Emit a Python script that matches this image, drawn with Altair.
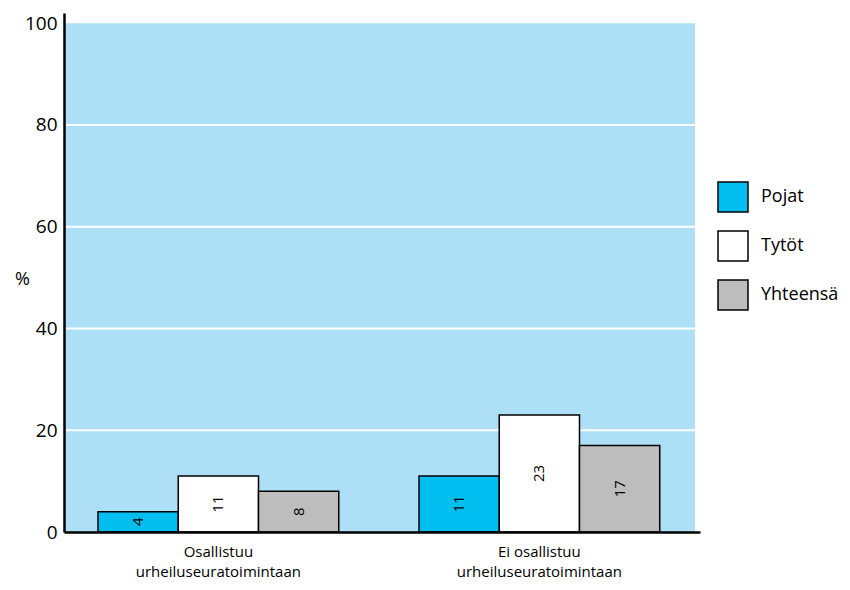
import altair as alt
import pandas as pd

categories = ["Osallistuu\nurheiluseuratoimintaan", "Ei osallistuu\nurheiluseuratoimintaan"]
series = ["Pojat", "Tytöt", "Yhteensä"]
pojat = [4, 11]
tytot = [11, 23]
yhteensa = [8, 17]
y_ticks = [0, 20, 40, 60, 80, 100]
grid_values = [20, 40, 60, 80]
colors = ["#00BFF0", "#FFFFFF", "#BDBDBD"]

rows = []
for i, c in enumerate(categories):
    for s, vals in zip(series, [pojat, tytot, yhteensa]):
        rows.append({"cat": c, "serie": s, "value": vals[i]})
df = pd.DataFrame(rows)

FONT = "Open Sans"

x_scale = alt.Scale(paddingInner=0.25, paddingOuter=0.1157, align=0.458)
x_axis = alt.Axis(labelAngle=0, ticks=False, grid=False, labelFontSize=15, labelPadding=12,
                  labelLineHeight=20, labelColor="black", domainColor="black",
                  domainWidth=2.5, labelExpr="split(datum.label, '\\n')",
                  labelBaseline="top", zindex=1)
y_scale = alt.Scale(domain=[0, 102], nice=False, zero=True)
y_axis = alt.Axis(values=y_ticks, ticks=False, grid=False, labelFontSize=19,
                  labelColor="black", labelPadding=7, domainColor="black",
                  domainWidth=2.5, titleAngle=0, titleFontSize=18,
                  titleFontWeight="normal", titleX=-42, titleY=266,
                  titleAlign="center", titleBaseline="middle", titleColor="black",
                  zindex=1)

bg = alt.Chart(pd.DataFrame({"a": [0]})).mark_rect(color="#ADE0F7").encode(
    x=alt.value(0), x2=alt.value(631),
    y=alt.Y(datum=0, scale=y_scale, axis=y_axis, title="%"), y2=alt.datum(100)
)

grid = alt.Chart(pd.DataFrame({"g": grid_values})).mark_rule(color="white", strokeWidth=2).encode(
    x=alt.value(0), x2=alt.value(631),
    y=alt.Y("g:Q", scale=y_scale, axis=y_axis, title="%")
)

bars = alt.Chart(df).mark_bar(stroke="black", strokeWidth=1.5).encode(
    x=alt.X("cat:N", sort=categories, title=None, scale=x_scale, axis=x_axis),
    xOffset=alt.XOffset("serie:N", sort=series, scale=alt.Scale(paddingInner=0, paddingOuter=0)),
    y=alt.Y("value:Q", scale=y_scale, axis=y_axis, title="%"),
    color=alt.Color("serie:N", sort=series,
                    scale=alt.Scale(domain=series, range=colors),
                    legend=alt.Legend(title=None, orient="none", legendX=653, legendY=168,
                                      symbolType="square", symbolSize=900,
                                      symbolStrokeColor="black", symbolStrokeWidth=1.5,
                                      symbolOpacity=1, labelFontSize=18, labelColor="black",
                                      labelOffset=12, rowPadding=13))
)

labels = alt.Chart(df).transform_calculate(mid="datum.value / 2").mark_text(
    angle=270, fontSize=15, color="black", baseline="middle", align="center"
).encode(
    x=alt.X("cat:N", sort=categories, title=None, scale=x_scale, axis=x_axis),
    xOffset=alt.XOffset("serie:N", sort=series),
    y=alt.Y("mid:Q", scale=y_scale, axis=y_axis, title="%"),
    text=alt.Text("value:Q")
)

chart = alt.layer(bg, grid, bars, labels).properties(
    width=636, height=519,
    autosize=alt.AutoSizeParams(type="none"),
    padding={"left": 56, "top": 5, "right": 142, "bottom": 50}
).configure(font=FONT, background="white").configure_view(stroke=None)

chart.save("out.html", embed_options={"renderer": "svg", "actions": False})
